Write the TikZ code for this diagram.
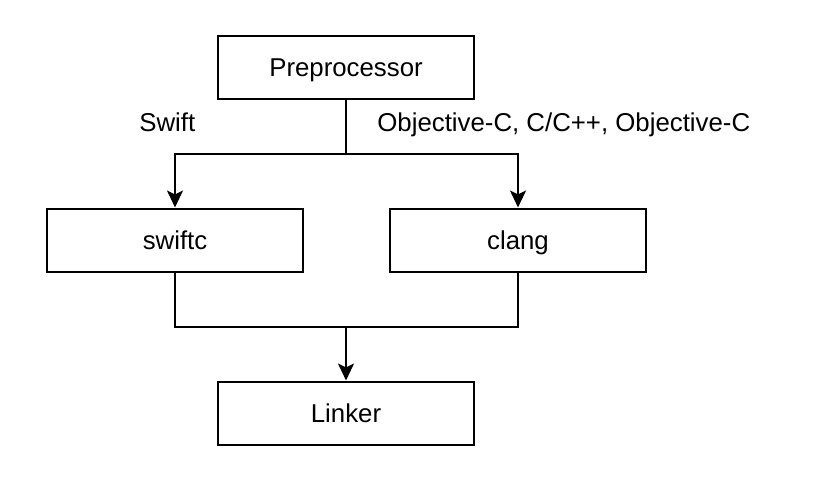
\documentclass[tikz,border=0pt]{standalone}
\usepackage{fontspec}
\setmainfont{Liberation Sans}
\usepackage{tikz}
\usetikzlibrary{arrows.meta,positioning,calc}
\tikzset{
  stage/.style={draw=black, line width=1pt, fill=white, align=center,
    minimum width=128pt, minimum height=31.5pt, inner sep=0pt,
    text height=9.2pt, text depth=0pt,
    font=\fontsize{12.9pt}{15pt}\selectfont},
  flowlabel/.style={inner sep=0pt, anchor=base west,
    font=\fontsize{12.9pt}{15pt}\selectfont},
  wire/.style={draw=black, line width=1pt},
  link/.style={wire, -{Stealth[length=8.5pt, width=8pt, inset=2pt]}}
}

\begin{document}
\begin{tikzpicture}[node distance=54pt and 0pt]
  \useasboundingbox (0,0) rectangle (409pt,-241pt);
  \node[stage] (pre) at (173pt,-33.5pt) {Preprocessor};
  \node[stage, below=of pre, xshift=-85.5pt] (swiftc) {swiftc};
  \node[stage, below=of pre, xshift=86pt] (clang) {clang};
  \node[stage, below=of swiftc, xshift=85.5pt] (linker) {Linker};
  \coordinate (fork) at ($(pre.south)!0.5!(pre.south |- swiftc.north)$);
  \coordinate (join) at ($(linker.north)!0.5!(linker.north |- swiftc.south)$);
  \node[flowlabel] (swiftlbl) at (69.5pt,-65.75pt) {Swift};
  \node[flowlabel] (objclbl) at (188.5pt,-65.75pt) {Objective-C, C/C++, Objective-C};
  \draw[wire] (pre) -- (fork);
  \draw[link] (fork) -| (swiftc.north);
  \draw[link] (fork) -| (clang.north);
  \draw[wire] (swiftc.south) |- (join) -| (clang.south);
  \draw[link] (join) -- (linker);
\end{tikzpicture}
\end{document}
